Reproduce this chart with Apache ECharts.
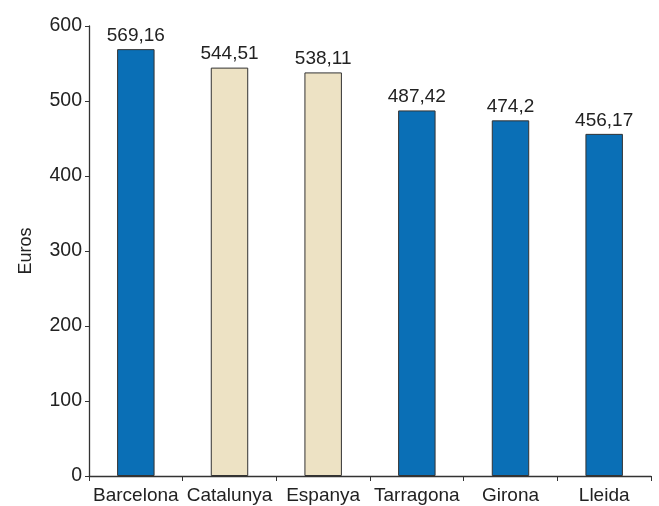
<!DOCTYPE html>
<html><head><meta charset="utf-8">
<script src="https://cdn.jsdelivr.net/npm/echarts@6/dist/echarts.min.js"></script>
<style>html,body{margin:0;padding:0;background:#fff}#c{width:659px;height:506px}</style>
</head><body><div id="c"></div>
<script>
const categories = ["Barcelona","Catalunya","Espanya","Tarragona","Girona","Lleida"];
const values = [569.16, 544.51, 538.11, 487.42, 474.2, 456.17];
const highlight = [false, true, true, false, false, false];
const yTicks = [0,100,200,300,400,500,600];

const BLUE = "#0a6fb6", BEIGE = "#ede2c4";
const font = "'Liberation Sans', Arial, sans-serif";
const chart = echarts.init(document.getElementById('c'));
chart.setOption({
  animation:false,
  grid:{left:89,right:8,top:26,bottom:30},
  xAxis:{type:'category',data:categories,
    axisLine:{lineStyle:{color:'#333',width:1.3}},
    axisTick:{show:true,length:5,inside:false,lineStyle:{color:'#333'}},
    axisLabel:{color:'#222',fontSize:19,fontFamily:font,margin:10,interval:0}},
  yAxis:{type:'value',min:yTicks[0],max:yTicks[yTicks.length-1],interval:100,
    name:'Euros',nameLocation:'middle',nameGap:54,
    nameTextStyle:{color:'#222',fontSize:18,fontFamily:font},
    axisLine:{show:true,lineStyle:{color:'#333',width:1.3}},
    axisTick:{show:true,length:4,lineStyle:{color:'#333'}},
    splitLine:{show:false},
    axisLabel:{color:'#222',fontSize:19.5,fontFamily:font,margin:7}},
  series:[{type:'bar',barWidth:'40%',
    data:values.map((v,i)=>({value:v,itemStyle:{color:highlight[i]?BEIGE:BLUE}})),
    itemStyle:{borderColor:'#333',borderWidth:1},
    label:{show:true,position:'top',distance:4,color:'#222',fontSize:19,fontFamily:font,
      formatter:p=>String(p.value).replace('.',',')}}]
});
</script></body></html>
